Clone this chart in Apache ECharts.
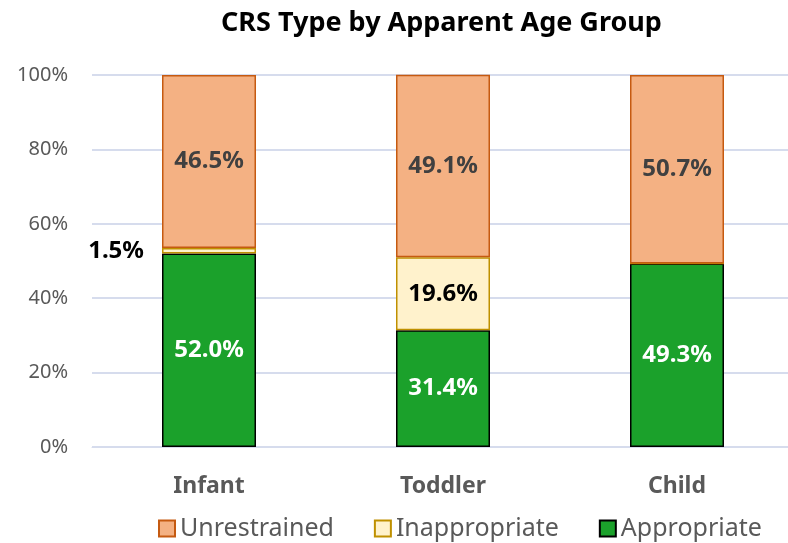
<!DOCTYPE html>
<html>
<head>
<meta charset="utf-8">
<script src="https://cdn.jsdelivr.net/npm/echarts@6/dist/echarts.min.js"></script>
<style>
  html, body { margin: 0; padding: 0; background: #fff; }
  #chart { width: 788px; height: 543px; }
</style>
</head>
<body>
<div id="chart"></div>
<script>
// 数据
var categories = ['Infant', 'Toddler', 'Child'];
var appropriate = [52.0, 31.4, 49.3];
var inappropriate = [1.5, 19.6, 0];
var unrestrained = [46.5, 49.1, 50.7];
var yTicks = [0, 20, 40, 60, 80, 100];

var font = '"Noto Sans", "Open Sans", sans-serif';
var chart = echarts.init(document.getElementById('chart'));

function lbl(color) {
  return {
    show: true,
    color: color,
    fontFamily: font,
    fontWeight: 'bold',
    fontSize: 24,
    formatter: function (p) { return p.value ? p.value.toFixed(1) + '%' : ''; }
  };
}

var option = {
  animation: false,
  title: {
    text: 'CRS Type by Apparent Age Group',
    left: 216,
    top: 5,
    textStyle: { fontFamily: font, fontSize: 27, fontWeight: 'bold', color: '#000' }
  },
  grid: { left: 92, width: 702, top: 75, bottom: 96, outerBoundsMode: 'none' },
  legend: {
    bottom: -3,
    left: 153,
    icon: 'rect',
    itemWidth: 16,
    itemHeight: 16,
    itemGap: 40,
    textStyle: { fontFamily: font, fontSize: 25, color: '#595959' },
    data: ['Unrestrained', 'Inappropriate', 'Appropriate']
  },
  xAxis: {
    type: 'category',
    data: categories,
    axisLine: { lineStyle: { color: '#d6dced' } },
    axisTick: { show: false },
    axisLabel: { fontFamily: font, fontSize: 23, fontWeight: 'bold', color: '#595959', margin: 28 }
  },
  yAxis: {
    type: 'value',
    min: yTicks[0],
    max: yTicks[yTicks.length - 1],
    interval: 20,
    axisLine: { show: false },
    axisTick: { show: false },
    splitLine: { lineStyle: { color: '#d6dced', width: 2 } },
    axisLabel: { fontFamily: font, fontSize: 20, color: '#595959', margin: 24, formatter: '{value}%' }
  },
  series: [
    {
      name: 'Appropriate',
      type: 'bar',
      stack: 'crs',
      barWidth: 94,
      data: appropriate,
      itemStyle: { color: '#1ba12b', borderColor: '#000', borderWidth: 1.5 },
      label: lbl('#fff')
    },
    {
      name: 'Inappropriate',
      type: 'bar',
      stack: 'crs',
      data: inappropriate.map(function (v, i) {
        if (i === 0) {
          return { value: v, label: { position: 'left', distance: 18, color: '#000' } };
        }
        return v;
      }),
      itemStyle: { color: '#fff2cc', borderColor: '#bf9000', borderWidth: 1.5 },
      label: lbl('#000')
    },
    {
      name: 'Unrestrained',
      type: 'bar',
      stack: 'crs',
      data: unrestrained,
      itemStyle: { color: '#f4b183', borderColor: '#c55a11', borderWidth: 1.5 },
      label: lbl('#404040')
    }
  ]
};

chart.setOption(option);
</script>
</body>
</html>
